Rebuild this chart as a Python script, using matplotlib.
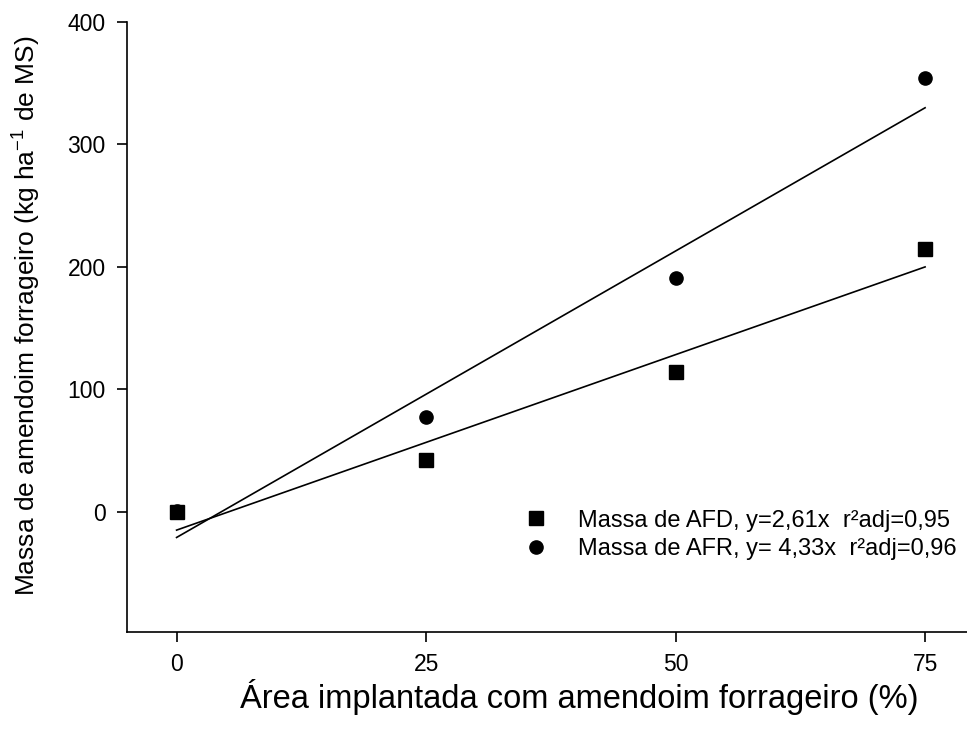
import matplotlib.pyplot as plt
import numpy as np

plt.rcParams['font.family'] = ['Liberation Sans', 'DejaVu Sans']

# dados
area = [0, 25, 50, 75]
afd = [0, 42, 114, 215]
afr = [1, 77, 191, 354]

# retas ajustadas (valores nos extremos x=0 e x=75)
x_fit = [0, 75]
afd_fit = [-15, 200]
afr_fit = [-21, 330]

fig = plt.figure(figsize=(9.67, 7.31), dpi=100)
ax = fig.add_axes([0.131, 0.1358, 0.869, 0.834])

ax.plot(x_fit, afd_fit, color='black', lw=1.2)
ax.plot(x_fit, afr_fit, color='black', lw=1.2)
ax.plot(area, afr, 'o', color='black', ms=9.5, label='Massa de AFR, y= 4,33x  r²adj=0,96', zorder=3)
ax.plot(area, afd, 's', color='black', ms=9.5, label='Massa de AFD, y=2,61x  r²adj=0,95', zorder=4)

ax.set_xlim(-5, 79.2)
ax.set_ylim(-98, 400)
ax.set_xticks([0, 25, 50, 75])
ax.set_yticks([0, 100, 200, 300, 400])

for s in ['top', 'right']:
    ax.spines[s].set_visible(False)
for s in ['left', 'bottom']:
    ax.spines[s].set_linewidth(1.2)
ax.tick_params(direction='out', length=7, width=1.2, labelsize=16.5, pad=8)

ax.set_xlabel('Área implantada com amendoim forrageiro (%)', fontsize=23.5)
ax.xaxis.set_label_coords(0.538, -0.107)
ax.xaxis.label.set_va('center')
ax.set_ylabel('Massa de amendoim forrageiro (kg ha$^{\\mathregular{-1}}$ de MS)', fontsize=19)
ax.yaxis.set_label_coords(-0.12, 0.519)
ax.yaxis.label.set_va('center')

h, l = ax.get_legend_handles_labels()
leg = ax.legend(h[::-1], l[::-1], loc='center left', bbox_to_anchor=(0.473, 0.159),
                frameon=False, fontsize=17, handletextpad=1.27, labelspacing=0.27,
                handlelength=1.0, borderaxespad=0, borderpad=0)

fig.savefig('out.png', dpi=100)
